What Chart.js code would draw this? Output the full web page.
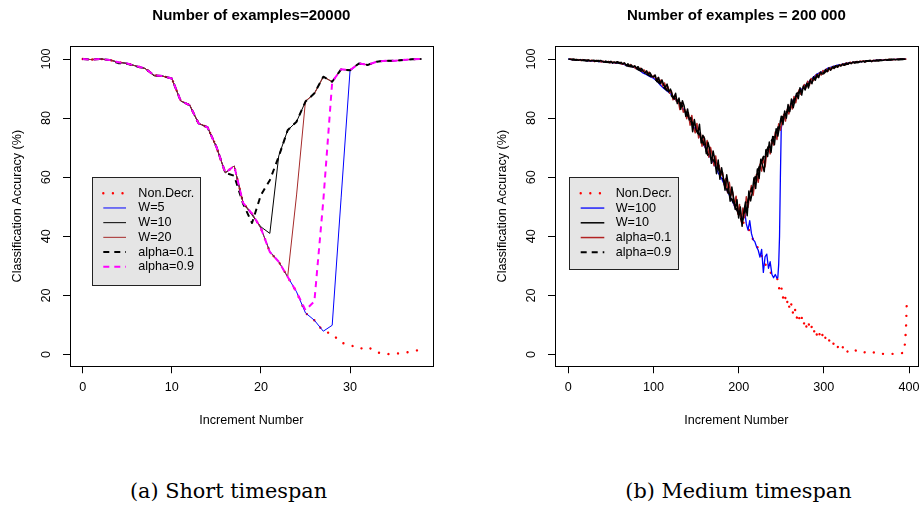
<!DOCTYPE html>
<html>
<head>
<meta charset="utf-8">
<script src="https://cdn.jsdelivr.net/npm/chart.js@4.4.1/dist/chart.umd.min.js"></script>
<style>
  html, body { margin: 0; padding: 0; background: #fff; overflow: hidden; }
  body { width: 919px; height: 506px; position: relative; }
  canvas { position: absolute; top: 0; }
  #graficoA { left: 0; }
  #graficoB { left: 485px; }
  .leyenda-fig { position: absolute; top: 477px; line-height: 28px; font-family: "DejaVu Serif", serif; font-size: 20.8px; white-space: nowrap; transform: translateX(-50%); color: #000; }
</style>
</head>
<body>
<canvas id="graficoA" width="460" height="432"></canvas>
<canvas id="graficoB" width="435" height="432"></canvas>
<div class="leyenda-fig" style="left:228.5px">(a) Short timespan</div>
<div class="leyenda-fig" style="left:738.5px">(b) Medium timespan</div>
<script>
// Ticks comunes
const ticksY = [0, 20, 40, 60, 80, 100];
const ticksXA = [0, 10, 20, 30];
const ticksXB = [0, 100, 200, 300, 400];

// ---- Panel (a): 20000 ejemplos, incrementos 0..38
const incrementosA = [0,1,2,3,4,5,6,7,8,9,10,11,12,13,14,15,16,17,18,19,20,21,22,23,24,25,26,27,28,29,30,31,32,33,34,35,36,37,38];

const noDecrA = [100, 99.8, 100, 99.7, 98.9, 98.5, 97.6, 96.8, 94.5, 94.2, 93.4, 85.8, 84.4, 78.2, 76.9, 70.3, 61.5, 63.8, 51.3, 47.7,
  42.7, 34.7, 31.4, 26.3, 21.2, 14.1, 11.6, 7.9, 7.0, 4.0, 3.3, 1.9, 2.6, 0.8, 0.1, 0.3, 0.5, 1.1, 1.7];
const w5A = [100, 99.8, 100, 99.7, 98.9, 98.5, 97.6, 96.8, 94.5, 94.2, 93.4, 85.8, 84.4, 78.2, 76.9, 70.3, 61.5, 63.8, 51.3, 47.7,
  42.7, 34.9, 31.4, 26.3, 21.2, 14.1, 11.6, 7.9, 9.9, 53.0, 96.0, 98.5, 98.0, 99.1, 99.4, 99.4, 99.7, 99.9, 100];
const w10A = [100, 99.8, 100, 99.7, 98.9, 98.5, 97.6, 96.8, 94.3, 94.2, 93.4, 85.8, 84.4, 78.2, 76.9, 70.3, 61.5, 63.8, 51.3, 47.2,
  43.2, 41.0, 67.2, 75.9, 78.8, 85.6, 88.4, 94.0, 92.3, 96.5, 96.2, 98.5, 98.0, 99.1, 99.4, 99.4, 99.7, 99.9, 100];
const w20A = [100, 99.8, 100, 99.7, 98.9, 98.5, 97.6, 96.8, 94.5, 94.2, 93.4, 85.8, 84.6, 78.2, 77.1, 70.3, 61.5, 63.8, 51.3, 47.7,
  42.7, 34.7, 31.4, 26.3, 54.0, 85.8, 88.2, 94.0, 92.3, 96.5, 96.2, 98.5, 98.0, 99.1, 99.4, 99.4, 99.7, 99.9, 100];
const alpha01A = [100, 99.8, 100, 99.7, 98.6, 98.4, 97.5, 96.8, 94.5, 94.2, 93.4, 85.8, 84.4, 78.2, 76.9, 70.3, 61.5, 60.5, 51.0, 44.5,
  54.0, 59.0, 67.0, 75.9, 78.8, 85.6, 88.4, 94.0, 92.3, 96.5, 96.2, 98.5, 98.0, 99.1, 99.4, 99.4, 99.7, 99.9, 100];
const alpha09A = [100, 99.8, 100, 99.7, 98.9, 98.5, 97.6, 96.8, 94.5, 94.2, 93.4, 85.8, 84.4, 78.2, 76.9, 70.3, 61.5, 63.8, 51.3, 47.7,
  42.7, 34.7, 31.4, 26.3, 21.2, 15.0, 18.0, 52.0, 92.3, 96.5, 96.2, 98.5, 98.0, 99.1, 99.4, 99.4, 99.7, 99.9, 100];

// ---- Panel (b): 200 000 ejemplos
const incParB = [0,2,4,6,8,10,12,14,16,18, 20,22,24,26,28,30,32,34,36,38, 40,42,44,46,48,50,52,54,56,58,
  60,62,64,66,68,70,72,74,76,78, 80,82,84,86,88,90,92,94,96,98, 100,102,104,106,108,110,112,114,116,118,
  120,122,124,126,128,130,132,134,136,138, 140,142,144,146,148,150,152,154,156,158, 160,162,164,166,168,170,172,174,176,178,
  180,182,184,186,188,190,192,194,196,198, 200,202,204,206,208,210,212,214,216,218, 220,222,224,226,228,230,232,234,236,238,
  240,242,244,246,248,250,252,254,256,258, 260,262,264,266,268,270,272,274,276,278, 280,282,284,286,288,290,292,294,296,298,
  300,302,304,306,308,310,312,314,316,318, 320,322,324,326,328,330,332,334,336,338, 340,342,344,346,348,350,352,354,356,358,
  360,362,364,366,368,370,372,374,376,378, 380,382,384,386,388,390,392,394,396];
const w10B = [100, 99.9, 99.8, 99.9, 99.7, 99.8, 99.6, 99.8, 99.5, 99.7,
  99.6, 99.4, 99.7, 99.3, 99.5, 99.6, 99.2, 99.4, 99.1, 99.5,
  99.2, 98.9, 99.3, 99.0, 98.8, 99.2, 98.6, 99.0, 98.7, 99.1,
  98.5, 98.9, 98.3, 98.7, 97.8, 98.4, 97.6, 98.0, 97.2, 97.7,
  96.9, 97.4, 96.3, 96.8, 95.9, 95.2, 96.0, 94.8, 95.3, 94.2,
  93.9, 94.6, 92.4, 93.8, 91.6, 92.9, 91.2, 90.4, 91.5, 88.9,
  89.8, 87.9, 86.6, 88.4, 84.9, 86.8, 83.0, 85.9, 84.1, 80.6,
  83.1, 79.4, 80.2, 75.4, 79.5, 76.1, 74.8, 77.9, 71.6, 74.2,
  73.1, 68.0, 71.8, 69.5, 64.7, 68.9, 66.0, 61.2, 65.8, 59.3,
  63.2, 59.9, 55.6, 60.8, 57.1, 51.9, 56.7, 53.0, 49.1, 52.4,
  46.2, 49.9, 43.4, 48.1, 51.6, 47.0, 55.3, 52.0, 54.9, 59.8,
  56.2, 62.8, 59.6, 66.1, 64.0, 61.9, 69.3, 67.0, 71.9, 68.4,
  73.8, 71.0, 76.4, 73.9, 77.2, 80.6, 77.8, 82.4, 80.0, 84.6,
  82.2, 86.5, 83.5, 85.9, 88.4, 86.6, 90.3, 87.8, 90.9, 89.5,
  91.8, 90.2, 93.0, 91.6, 94.0, 92.8, 94.8, 93.7, 95.6, 94.9,
  95.0, 96.4, 95.7, 97.0, 96.2, 97.3, 96.8, 97.7, 97.2, 98.0,
  97.6, 98.3, 97.9, 98.6, 98.2, 98.8, 98.4, 99.0, 98.7, 99.1,
  98.8, 99.2, 99.0, 99.3, 98.9, 99.4, 99.2, 99.5, 99.1, 99.5,
  99.3, 99.6, 99.4, 99.7, 99.5, 99.6, 99.8, 99.6, 99.8, 99.7,
  99.8, 99.9, 99.7, 99.9, 99.8, 100, 99.9, 100, 99.9];

const incImparB = [1,3,5,7,9,11,13,15,17,19, 21,23,25,27,29,31,33,35,37,39, 41,43,45,47,49,51,53,55,57,59,
  61,63,65,67,69,71,73,75,77,79, 81,83,85,87,89,91,93,95,97,99, 101,103,105,107,109,111,113,115,117,119,
  121,123,125,127,129,131,133,135,137,139, 141,143,145,147,149,151,153,155,157,159, 161,163,165,167,169,171,173,175,177,179,
  181,183,185,187,189,191,193,195,197,199, 201,203,205,207,209,211,213,215,217,219, 221,223,225,227,229,231,233,235,237,239,
  241,243,245,247,249,251,253,255,257,259, 261,263,265,267,269,271,273,275,277,279, 281,283,285,287,289,291,293,295,297,299,
  301,303,305,307,309,311,313,315,317,319, 321,323,325,327,329,331,333,335,337,339, 341,343,345,347,349,351,353,355,357,359,
  361,363,365,367,369,371,373,375,377,379, 381,383,385,387,389,391,393,395,397];
const alpha01B = [99.9, 100, 99.7, 99.9, 99.6, 99.8, 99.7, 99.5, 99.8, 99.6,
  99.5, 99.7, 99.3, 99.6, 99.4, 99.1, 99.5, 99.3, 99.2, 99.0,
  99.3, 99.0, 98.9, 99.2, 98.7, 99.0, 98.9, 98.6, 99.0, 98.7,
  98.8, 98.2, 98.6, 98.1, 97.9, 97.5, 98.1, 97.4, 97.6, 96.8,
  97.2, 96.5, 96.9, 95.8, 96.3, 95.5, 94.9, 95.6, 94.6, 93.8,
  94.5, 93.0, 93.6, 92.0, 92.9, 90.8, 91.9, 89.7, 90.6, 88.4,
  89.2, 86.2, 87.8, 85.6, 86.3, 82.9, 85.2, 82.0, 82.9, 79.8,
  81.8, 77.6, 80.9, 76.9, 75.0, 78.2, 73.3, 75.1, 70.5, 73.8,
  69.9, 72.4, 66.8, 70.1, 67.4, 63.9, 67.2, 62.9, 64.1, 60.6,
  61.7, 57.4, 59.6, 54.8, 58.3, 53.9, 55.0, 50.4, 53.6, 47.5,
  50.8, 44.9, 49.6, 46.3, 53.4, 49.8, 54.1, 57.2, 53.9, 58.6,
  61.0, 58.3, 64.4, 62.1, 66.9, 63.5, 68.5, 70.4, 67.9, 72.6,
  70.9, 75.3, 72.8, 78.1, 75.9, 79.2, 81.3, 79.0, 83.0, 81.4,
  84.8, 83.1, 87.3, 85.2, 87.9, 89.6, 88.1, 89.9, 91.4, 90.2,
  92.5, 91.0, 93.4, 92.6, 93.1, 94.7, 93.9, 95.3, 94.6, 96.1,
  95.3, 96.6, 95.9, 97.1, 96.5, 97.5, 97.0, 97.8, 97.4, 98.1,
  97.8, 98.4, 98.0, 98.7, 98.3, 98.9, 98.6, 99.0, 98.8, 99.2,
  98.9, 99.3, 99.1, 99.4, 99.0, 99.4, 99.3, 99.5, 99.2, 99.6,
  99.4, 99.6, 99.5, 99.7, 99.6, 99.7, 99.8, 99.7, 99.9, 99.8,
  99.7, 99.9, 99.8, 99.9, 100, 99.9, 100, 99.9, 100];

const incAlpha09B = [4,12,20,28,36,44,52,60,68,76, 84,92,100,108,116,124,132,140,148,156,
  164,172,180,188,196,204,212,220,228,236, 244,252,260,268,276,284,292,300,308,316,
  324,332,340,348,356,364,372,380,388,396];
const alpha09B = [99.8, 99.6, 99.5, 99.3, 99.4, 99.0, 98.9, 98.7, 97.9, 97.3,
  96.2, 95.0, 93.7, 91.6, 89.4, 86.7, 84.9, 81.0, 77.1, 73.4,
  67.5, 65.2, 60.8, 54.7, 50.3, 45.2, 52.9, 60.4, 66.1, 70.8,
  75.0, 80.9, 83.0, 88.0, 90.2, 92.0, 94.1, 95.4, 96.9, 97.6,
  98.1, 98.6, 98.9, 99.2, 99.4, 99.5, 99.6, 99.8, 99.8, 100];

const incW100B = [0,4,8,12,16,20,24,28,32,36, 40,44,48,52,56,60,64,68,72,76, 80,84,88,92,96,100,104,108,112,116,
  120,124,128,132,136,140,144,148,152,156, 160,164,168,172,176,180,184,188,192,196, 200,
  203,205,207,209,211,213,215,217,219,221, 223,225,227,229,231,233,235,237,239,241, 243,245,
  246,247,248,249,250,252,
  256,260,264,268,272,276,280,284,288,292, 296,300,304,308,312,316,320,324,328,332,
  336,340,344,348,352,356,360,364,368,372, 376,380,384,388,392,396];
const w100B = [100, 99.8, 99.7, 99.6, 99.7, 99.5, 99.4, 99.3, 99.3, 99.1,
  99.2, 99.0, 98.9, 98.8, 98.6, 98.6, 98.3, 97.8, 97.6, 97.3,
  96.8, 96.1, 95.2, 94.7, 94.0, 93.5, 92.6, 91.2, 90.1, 89.2,
  88.2, 87.0, 85.5, 84.6, 82.5, 80.9, 78.5, 76.7, 75.2, 72.8,
  70.4, 68.1, 65.9, 64.0, 61.5, 59.6, 56.9, 54.5, 52.3, 49.6, 48.2,
  47.0, 45.8, 48.6, 44.2, 42.1, 45.3, 41.0, 38.9, 38.2, 36.5,
  35.3, 33.0, 35.6, 27.8, 33.1, 34.0, 29.2, 31.4, 27.2, 26.0, 27.1, 25.8,
  26.1, 30.5, 40.0, 60.0, 76.5, 80.0,
  81.6, 83.4, 86.2, 87.9, 89.4, 90.3, 91.6, 92.7, 93.9, 94.9,
  95.5, 95.9, 96.8, 97.2, 97.6, 97.9, 98.1, 98.4, 98.6, 98.8,
  98.9, 99.0, 99.1, 99.2, 99.3, 99.4, 99.5, 99.6, 99.6, 99.7,
  99.8, 99.8, 99.9, 99.9, 100, 100];

const incNoDecrB = [196, 200, 204, 208, 212, 216, 220, 224, 228, 232,
  236, 240, 244, 246, 248, 250, 252, 254, 256, 258,
  260, 262, 264, 266, 268, 270, 272, 274, 276, 278,
  280, 282, 284, 286, 288, 290, 292, 294, 296, 298,
  300, 302, 304, 306, 308, 310, 312, 314, 316, 318,
  320, 322, 324, 326, 328, 330, 335.8, 341.3, 347, 355,
  359.7, 363.3, 371.8, 378.4, 385.6, 393.3, 395.3, 396.5, 397.3];
const noDecrB = [50.5, 48.2, 45.8, 43.0, 42.2, 39.4, 37.6, 35.2, 32.8, 30.2,
  28.6, 26.5, 25.6, 25.5, 21.5, 23.0, 19.2, 20.8, 16.9, 18.6,
  15.0, 17.2, 13.6, 15.6, 12.2, 14.0, 11.0, 12.6, 9.9, 11.6,
  8.8, 10.7, 8.2, 9.6, 7.3, 8.9, 6.4, 8.0, 5.6, 7.0,
  4.6, 5.8, 4.1, 5.0, 3.7, 4.6, 3.2, 3.9, 2.4, 3.2,
  1.9, 2.6, 1.3, 2.0, 0.9, 1.5, 1.7, 0.6, 0.7, 1.2,
  0.6, 0.1, 0.3, 0.3, 0.1, 0.6, 3.7, 9.0, 17.0];

// Fuentes por defecto
Chart.defaults.font.family = '"Liberation Sans", Arial, sans-serif';
Chart.defaults.font.size = 12.6;
Chart.defaults.color = '#000';

function puntos(xs, ys) {
  return xs.map((x, k) => ({x: x, y: ys[k]}));
}

// Serie de línea con el estilo de R
function serie(etiqueta, xs, ys, color, ancho, trazo, orden, redondo) {
  return {
    label: etiqueta,
    data: puntos(xs, ys),
    borderColor: color,
    borderWidth: ancho,
    borderDash: trazo,
    borderCapStyle: redondo ? 'round' : 'butt',
    borderJoinStyle: 'round',
    pointRadius: 0,
    tension: 0,
    fill: false,
    order: orden
  };
}

// Caja completa alrededor del área del gráfico
const marcoPlugin = {
  id: 'marco',
  afterDatasetsDraw(chart) {
    const a = chart.chartArea;
    const ctx = chart.ctx;
    ctx.save();
    ctx.strokeStyle = '#000';
    ctx.lineWidth = 1;
    const l = Math.round(a.left) + 0.5, t = Math.round(a.top) + 0.5;
    const r = Math.round(a.right) + 0.5, b = Math.round(a.bottom) + 0.5;
    ctx.strokeRect(l, t, r - l, b - t);
    ctx.restore();
  }
};

// Leyenda tipo R con fondo gris
const leyendaPlugin = {
  id: 'leyendaR',
  afterDraw(chart, args, o) {
    const ctx = chart.ctx;
    ctx.save();
    ctx.fillStyle = '#E5E5E5';
    ctx.fillRect(o.x, o.y, o.w, o.h);
    ctx.strokeStyle = '#222';
    ctx.lineWidth = 1;
    ctx.strokeRect(o.x + 0.5, o.y + 0.5, o.w, o.h);
    chart.data.datasets.forEach((ds, k) => {
      const yy = o.y0 + k * o.dy;
      ctx.beginPath();
      ctx.setLineDash(ds.borderDash || []);
      ctx.lineCap = ds.borderCapStyle;
      ctx.strokeStyle = ds.borderColor;
      ctx.lineWidth = ds.borderWidth;
      ctx.moveTo(o.lx0, yy);
      ctx.lineTo(o.lx1, yy);
      ctx.stroke();
      ctx.setLineDash([]);
      ctx.fillStyle = '#000';
      ctx.font = '12.6px "Liberation Sans", Arial, sans-serif';
      ctx.textBaseline = 'middle';
      ctx.textAlign = 'left';
      ctx.fillText(ds.label, o.tx, yy);
    });
    ctx.restore();
  }
};

function crearGrafico(id, titulo, datasets, minX, maxX, ticksX, padDerecha, leyenda) {
  const ctx = document.getElementById(id).getContext('2d');
  return new Chart(ctx, {
    type: 'line',
    data: { datasets: datasets },
    plugins: [marcoPlugin, leyendaPlugin],
    options: {
      responsive: false,
      animation: false,
      parsing: false,
      layout: { autoPadding: false, padding: { top: 0, left: 0, right: padDerecha, bottom: 0 } },
      plugins: {
        legend: { display: false },
        tooltip: { enabled: false },
        title: {
          display: true,
          text: titulo,
          fullSize: false,
          color: '#000',
          font: { size: 15, weight: 'bold' },
          padding: { top: 7, bottom: 21 }
        },
        leyendaR: leyenda
      },
      scales: {
        x: {
          type: 'linear',
          min: minX,
          max: maxX,
          border: { display: false },
          grid: { drawOnChartArea: false, drawTicks: true, tickLength: 7, color: '#000', lineWidth: 1 },
          ticks: { padding: 6.5, maxRotation: 0, autoSkip: false, color: '#000' },
          afterBuildTicks: (s) => { s.ticks = ticksX.map(v => ({value: v})); },
          // sin margen extra para la última etiqueta
          afterFit: (s) => { s.paddingLeft = 0; s.paddingRight = 0; },
          title: { display: true, text: 'Increment Number', color: '#000', padding: { top: 11.5, bottom: 4 } }
        },
        y: {
          type: 'linear',
          min: -3.96,
          max: 104.4,
          border: { display: false },
          grid: { drawOnChartArea: false, drawTicks: true, tickLength: 7, color: '#000', lineWidth: 1 },
          ticks: { padding: 5.5, minRotation: 90, maxRotation: 90, crossAlign: 'center', color: '#000' },
          afterBuildTicks: (s) => { s.ticks = ticksY.map(v => ({value: v})); },
          afterFit: (s) => { s.width = 70; s.paddingTop = 0; s.paddingBottom = 0; },
          title: { display: true, text: 'Classification Accuracy (%)', color: '#000', padding: { top: 9.5, bottom: 0 } }
        }
      }
    }
  });
}

// Panel (a)
crearGrafico('graficoA', 'Number of examples=20000', [
  serie('Non.Decr.', incrementosA, noDecrA, '#FF0000', 2.4, [0.01, 9.6], 6, true),
  serie('W=5', incrementosA, w5A, '#0000FF', 1, [], 5, false),
  serie('W=10', incrementosA, w10A, '#000000', 1, [], 4, false),
  serie('W=20', incrementosA, w20A, '#A52A2A', 1, [], 3, false),
  serie('alpha=0.1', incrementosA, alpha01A, '#000000', 2, [6, 5], 2, false),
  serie('alpha=0.9', incrementosA, alpha09A, '#FF00FF', 2, [6, 5], 1, false)
], -1.43, 39.28, ticksXA, 27.3,
  { x: 92, y: 177, w: 108, h: 108, y0: 193.3, dy: 14.68, lx0: 103.3, lx1: 126, tx: 138.3 });

// Panel (b): la serie alpha=0.1 queda bajo W=10
crearGrafico('graficoB', 'Number of examples = 200 000', [
  serie('Non.Decr.', incNoDecrB, noDecrB, '#FF0000', 2.4, [0.01, 9.6], 5, true),
  serie('W=100', incW100B, w100B, '#0000FF', 1.3, [], 4, false),
  serie('W=10', incParB, w10B, '#000000', 1.5, [], 2, false),
  serie('alpha=0.1', incImparB, alpha01B, '#B22222', 1.5, [], 3, false),
  serie('alpha=0.9', incAlpha09B, alpha09B, '#000000', 2, [6, 5], 1, false)
], -15.6, 410.2, ticksXB, 2.3,
  { x: 84, y: 177, w: 109, h: 92, y0: 193.3, dy: 14.75, lx0: 95.7, lx1: 119.3, tx: 130.7 });
</script>
</body>
</html>
